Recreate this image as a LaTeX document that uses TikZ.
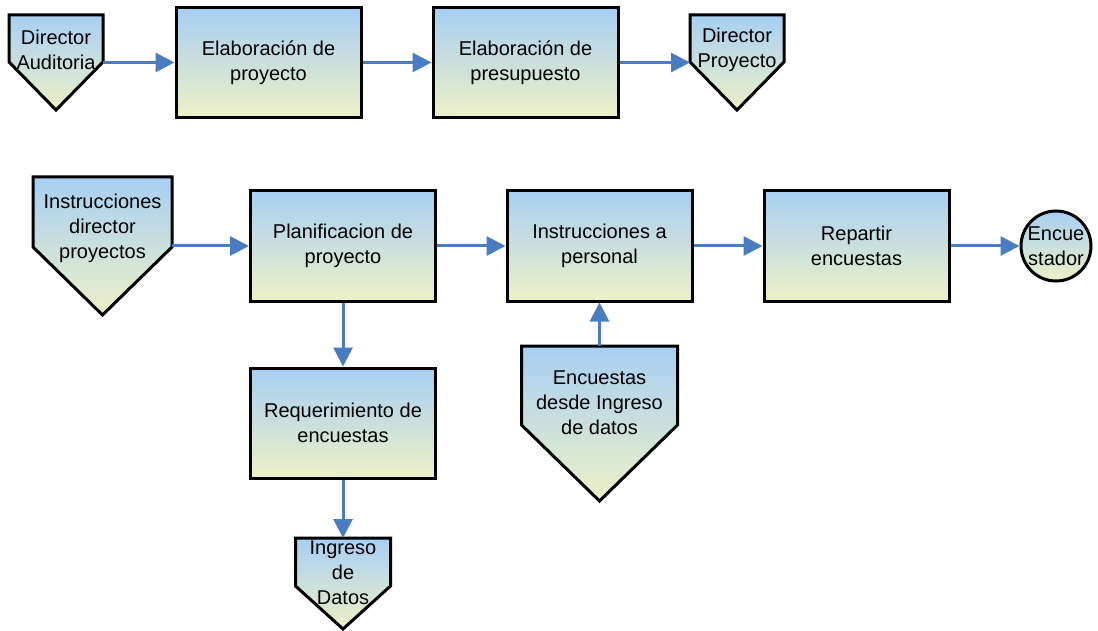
\documentclass[tikz,border=0pt]{standalone}
\usepackage{fontspec}
\setmainfont{Liberation Sans}
\usetikzlibrary{arrows.meta}
\definecolor{gtop}{HTML}{A7CFF3}
\definecolor{gbot}{HTML}{EEF0C6}
\definecolor{flow}{HTML}{4A7CC2}
\tikzset{
  txt/.style={font=\fontsize{20}{25}\selectfont, align=center, inner sep=0pt},
  stepbox/.style={txt, draw=black, line width=3pt, top color=gtop, bottom color=gbot,
    minimum width=185pt, minimum height=110pt, rectangle},
  offpage/.style={rectangle, inner sep=0pt, outer sep=0pt},
  endpoint/.style={txt, circle, draw=black, line width=3pt, top color=gtop, bottom color=gbot,
    minimum size=70pt},
  arr/.style={draw=flow, line width=3pt, -{Triangle[length=19pt,width=19pt]}},
}
% Off-page connector: a shaded pentagon built on the anchors of a bounding node
\newcommand\offpageshape[2]{%
  \shade[top color=gtop, bottom color=gbot, draw=black, line width=3pt, line join=miter]
    (#1.north west) -- (#1.north east) -- ([yshift=-#2]#1.north east)
    -- (#1.south) -- ([yshift=-#2]#1.north west) -- cycle;}
\begin{document}
\begin{tikzpicture}[x=1pt, y=-1pt]
\fill[white] (0,0) rectangle (1098,631);
\useasboundingbox (0,0) rectangle (1098,631);

% --- top row ---
\node[offpage, minimum width=94pt, minimum height=95pt] (da) at (56,62.5) {};
\offpageshape{da}{47pt}
\node[txt] (dat) at (56,50) {Director\\Auditoria};

\node[stepbox] (b1) at (268.5,62.5) {Elaboración de\\proyecto};
\node[stepbox] (b2) at (525.5,62.5) {Elaboración de\\presupuesto};

\node[offpage, minimum width=94pt, minimum height=95pt] (dp) at (737,62.5) {};
\offpageshape{dp}{47pt}
\node[txt] (dpt) at (737,50) {Director\\Proyecto};

\draw[arr] (da.east) -- (b1.west);
\draw[arr] (b1.east) -- (b2.west);
\draw[arr] (b2.east) -- (dp.west);

% --- main flow ---
\node[offpage, minimum width=139pt, minimum height=138pt] (idp) at (102.5,246) {};
\offpageshape{idp}{70pt}
\node[txt] (idpt) at (102.5,228) {Instrucciones\\director\\proyectos};

\node[stepbox] (b3) at (343,246) {Planificacion de\\proyecto};
\node[stepbox] (b4) at (599.5,246) {Instrucciones a\\personal};
\node[stepbox] (b5) at (856.5,246) {Repartir\\encuestas};
\node[endpoint] (enc) at (1056,246) {Encue\\stador};

\node[stepbox] (b6) at (343,423) {Requerimiento de\\encuestas};

\node[offpage, minimum width=95pt, minimum height=91pt] (idd) at (343,583.5) {};
\offpageshape{idd}{48pt}
\node[txt] (iddt) at (343,573) {Ingreso\\de\\Datos};

\node[offpage, minimum width=156pt, minimum height=155pt] (eidd) at (599.5,423.5) {};
\offpageshape{eidd}{79pt}
\node[txt] (eiddt) at (599.5,403) {Encuestas\\desde Ingreso\\de datos};

\draw[arr] (idp.east) -- (b3.west);
\draw[arr] (b3.east) -- (b4.west);
\draw[arr] (b4.east) -- (b5.west);
\draw[arr] (b5.east) -- (enc.west);
\draw[arr] (b3.south) -- (b6.north);
\draw[arr] (b6.south) -- (idd.north);
\draw[arr] (eidd.north) -- (b4.south);
\end{tikzpicture}
\end{document}
